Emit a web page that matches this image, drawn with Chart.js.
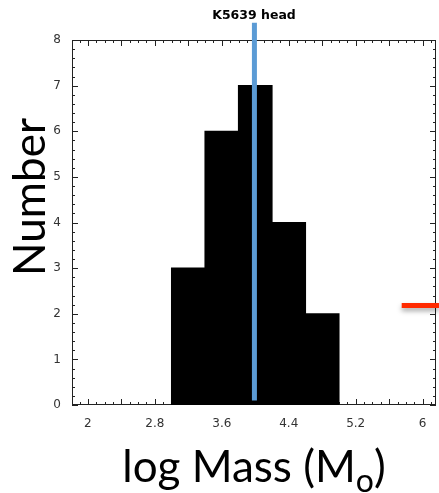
<!DOCTYPE html>
<html>
<head>
<meta charset="utf-8">
<title>K5639 head</title>
<script src="https://cdn.jsdelivr.net/npm/chart.js@4.4.1/dist/chart.umd.min.js"></script>
<style>
  html, body { margin: 0; padding: 0; background: #fff; }
  #wrap { width: 439px; height: 493px; }
</style>
</head>
<body>
<div id="wrap"><canvas id="massChart" width="439" height="493"></canvas></div>
<script>
// histogram bins (centres, width 0.4) and counts
const binCenters = [3.2, 3.6, 4.0, 4.4, 4.8];
const binCounts = [3, 6, 7, 4, 2];

// head mass marker (blue) and reference level (red)
const markerX = [3.99, 3.99];
const markerY = [0.1, 8.38];
const refX = [5.75, 6.2];
const refY = [2.18, 2.18];

const xTickValues = [2, 2.8, 3.6, 4.4, 5.2, 6];
const yTickValues = [0, 1, 2, 3, 4, 5, 6, 7, 8];

const toPoints = (xs, ys) => xs.map((x, i) => ({ x, y: ys[i] }));

// box frame with inward tick marks on all four sides
const frameTicks = {
  id: "frameTicks",
  beforeDatasetsDraw(chart) {
    const { ctx, chartArea: a, scales: { x, y } } = chart;
    ctx.save();
    ctx.strokeStyle = "#222";
    ctx.lineWidth = 1;
    ctx.beginPath();

    for (let i = 18; i <= 62; i++) {
      const v = i / 10;
      if (v < x.min || v > x.max) continue;
      const px = Math.round(x.getPixelForValue(v)) + 0.5;
      const len = i % 4 === 0 ? 6 : 3;
      ctx.moveTo(px, a.bottom);
      ctx.lineTo(px, a.bottom - len);
      ctx.moveTo(px, a.top);
      ctx.lineTo(px, a.top + len);
    }

    for (let i = 0; i <= 40; i++) {
      const py = Math.round(y.getPixelForValue(i / 5)) + 0.5;
      const len = i % 5 === 0 ? 6 : 3;
      ctx.moveTo(a.left, py);
      ctx.lineTo(a.left + len, py);
      ctx.moveTo(a.right, py);
      ctx.lineTo(a.right - len, py);
    }
    ctx.stroke();

    ctx.strokeRect(a.left + 0.5, a.top + 0.5, a.right - a.left - 1, a.bottom - a.top - 1);
    ctx.restore();
  }
};

// soft drop shadow under the red level line
const lineShadow = {
  id: "lineShadow",
  beforeDatasetDraw(chart, args) {
    if (args.index !== 2) return;
    const ctx = chart.ctx;
    ctx.save();
    ctx.shadowColor = "rgba(0,0,0,0.35)";
    ctx.shadowBlur = 5;
    ctx.shadowOffsetY = 3;
  },
  afterDatasetDraw(chart, args) {
    if (args.index !== 2) return;
    chart.ctx.restore();
  }
};

// axis titles (the x title needs a subscript)
const axisTitles = {
  id: "axisTitles",
  afterDraw(chart) {
    const { ctx, chartArea: a } = chart;
    ctx.save();
    ctx.fillStyle = "#000";
    ctx.textBaseline = "alphabetic";

    const big = "44px Lato";
    const small = "32px Lato";
    const head = "log Mass (M";
    const sub = "o";
    const tail = ")";
    ctx.font = big;
    const w1 = ctx.measureText(head).width;
    const w3 = ctx.measureText(tail).width;
    ctx.font = small;
    const w2 = ctx.measureText(sub).width;
    const cx = (a.left + a.right) / 2;
    let xPos = cx - (w1 + w2 + w3) / 2;
    const base = 482;
    ctx.textAlign = "left";
    ctx.font = big;
    ctx.fillText(head, xPos, base);
    xPos += w1;
    ctx.font = small;
    ctx.fillText(sub, xPos, base + 10);
    xPos += w2;
    ctx.font = big;
    ctx.fillText(tail, xPos, base);

    ctx.translate(45, 197);
    ctx.rotate(-Math.PI / 2);
    ctx.textAlign = "center";
    ctx.font = big;
    ctx.fillText("Number", 0, 0);
    ctx.restore();
  }
};

const tickFont = { family: "DejaVu Sans", size: 12 };

new Chart(document.getElementById("massChart"), {
  type: "bar",
  data: {
    datasets: [
      {
        type: "bar",
        data: toPoints(binCenters, binCounts),
        backgroundColor: "#000",
        borderWidth: 0,
        inflateAmount: 0.6,
        barPercentage: 1,
        categoryPercentage: 1,
        order: 3
      },
      {
        type: "line",
        data: toPoints(markerX, markerY),
        borderColor: "#5b9bd5",
        borderWidth: 5,
        borderCapStyle: "butt",
        pointRadius: 0,
        clip: false,
        order: 2
      },
      {
        type: "line",
        data: toPoints(refX, refY),
        borderColor: "#ff2a00",
        borderWidth: 5,
        borderCapStyle: "butt",
        pointRadius: 0,
        clip: false,
        order: 1
      }
    ]
  },
  options: {
    responsive: false,
    animation: false,
    layout: { padding: { left: 0, right: 3, top: 0, bottom: 0 } },
    plugins: {
      legend: { display: false },
      tooltip: { enabled: false },
      title: {
        display: true,
        text: "K5639 head",
        fullSize: false,
        color: "#000",
        font: { family: "DejaVu Sans", size: 12.5, weight: "bold" },
        padding: { top: 8, bottom: 17 }
      }
    },
    scales: {
      x: {
        type: "linear",
        offset: false,
        min: 1.81,
        max: 6.16,
        grid: { display: false, drawTicks: false, offset: false },
        border: { display: false },
        afterBuildTicks: scale => {
          scale.ticks = xTickValues.map(value => ({ value }));
        },
        afterFit: scale => { scale.height = 88; },
        ticks: {
          font: tickFont,
          color: "#333",
          padding: 12,
          maxRotation: 0,
          autoSkip: false,
          callback: value => String(value)
        }
      },
      y: {
        min: 0,
        max: 8,
        grid: { display: false, drawTicks: false },
        border: { display: false },
        afterBuildTicks: scale => {
          scale.ticks = yTickValues.map(value => ({ value }));
        },
        afterFit: scale => { scale.width = 72; },
        ticks: {
          font: tickFont,
          color: "#333",
          padding: 11
        }
      }
    }
  },
  plugins: [frameTicks, lineShadow, axisTitles]
});
</script>
</body>
</html>
